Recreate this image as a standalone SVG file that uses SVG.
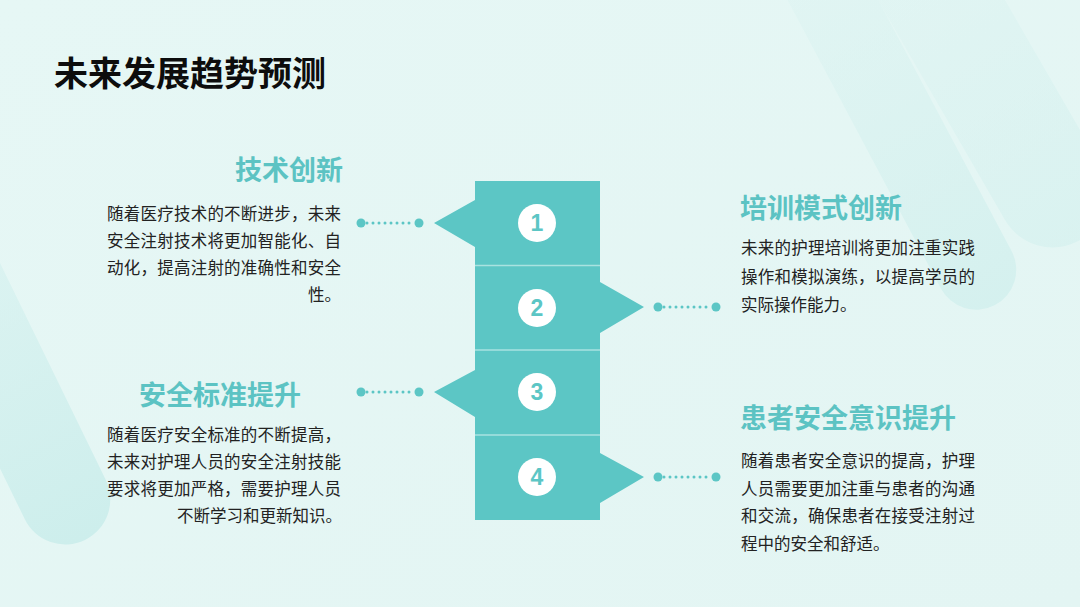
<svg xmlns="http://www.w3.org/2000/svg" width="1080" height="607" viewBox="0 0 1080 607">
  <defs>
    <linearGradient id="bg" x1="0" y1="0" x2="1" y2="1">
      <stop offset="0" stop-color="#E6F7F5"/>
      <stop offset="1" stop-color="#E3F5F3"/>
    </linearGradient>
    <linearGradient id="stripeL" x1="0" y1="0" x2="0" y2="1">
      <stop offset="0" stop-color="#D2F0EE" stop-opacity="0.3"/>
      <stop offset="1" stop-color="#CDEEEC" stop-opacity="1"/>
    </linearGradient>
    <linearGradient id="stripeR" x1="0" y1="0" x2="0" y2="1">
      <stop offset="0" stop-color="#D6F1EF" stop-opacity="0.2"/>
      <stop offset="1" stop-color="#D3F0EE" stop-opacity="0.9"/>
    </linearGradient>
    <style>
      .title{font-family:"Noto Sans CJK SC","Noto Sans",sans-serif;font-weight:700;font-size:34px;fill:#0d0d0d;}
      .head{font-family:"Noto Sans CJK SC","Noto Sans",sans-serif;font-weight:700;font-size:27px;fill:#5CC3C3;}
      .body{font-family:"Noto Sans CJK SC","Noto Sans",sans-serif;font-size:16.5px;fill:#222222;}
      .seg{fill:#5CC6C5;}
      .div{stroke:#A9E2E0;stroke-width:1.5;}
      .num{font-family:"Liberation Sans","Noto Sans",sans-serif;font-weight:700;font-size:23px;fill:#5CC6C5;text-anchor:middle;}
      .dot{fill:#5CC6C5;}
      .dash{stroke:#5CC6C5;stroke-width:3;stroke-linecap:round;stroke-dasharray:0 6;fill:none;}
    </style>
  </defs>

  <!-- background -->
  <rect width="1080" height="607" fill="url(#bg)"/>
  <rect x="-45" y="-420" width="90" height="420" rx="45" fill="url(#stripeL)" transform="translate(85,540) rotate(-26)"/>
  <rect x="-40" y="-420" width="80" height="420" rx="40" fill="url(#stripeR)" transform="translate(995,305) rotate(-28)"/>
  <rect x="-55" y="-420" width="110" height="420" rx="55" fill="url(#stripeR)" opacity="0.7" transform="translate(1080,240) rotate(-30)"/>

  <!-- title -->
  <text class="title" x="54" y="86">未来发展趋势预测</text>

  <!-- central stack -->
  <g id="stack">
    <g id="seg1">
      <path class="seg" d="M475,181 H600 V265 H475 V247 L434,223 L475,200 Z"/>
      <circle cx="537" cy="223" r="19" fill="#FFFFFF"/>
      <text class="num" x="537" y="231">1</text>
    </g>
    <g id="seg2">
      <path class="seg" d="M475,265 H600 V282 L644,307 L600,333 V350 H475 Z"/>
      <circle cx="537" cy="308" r="19" fill="#FFFFFF"/>
      <text class="num" x="537" y="316">2</text>
    </g>
    <g id="seg3">
      <path class="seg" d="M475,350 H600 V435 H475 V417 L434,392 L475,370 Z"/>
      <circle cx="537" cy="392" r="19" fill="#FFFFFF"/>
      <text class="num" x="537" y="400">3</text>
    </g>
    <g id="seg4">
      <path class="seg" d="M475,435 H600 V453 L644,477 L600,503 V520 H475 Z"/>
      <circle cx="537" cy="477" r="19" fill="#FFFFFF"/>
      <text class="num" x="537" y="485">4</text>
    </g>
    <line class="div" x1="475" y1="265.5" x2="600" y2="265.5"/>
    <line class="div" x1="475" y1="350" x2="600" y2="350"/>
    <line class="div" x1="475" y1="435" x2="600" y2="435"/>
  </g>

  <!-- connectors -->
  <g id="connectors">
    <line class="dash" x1="367" y1="223" x2="414" y2="223"/>
    <circle class="dot" cx="361" cy="223" r="4.5"/>
    <circle class="dot" cx="419" cy="223" r="4.5"/>

    <line class="dash" x1="664" y1="307" x2="711" y2="307"/>
    <circle class="dot" cx="658" cy="307" r="4.5"/>
    <circle class="dot" cx="716" cy="307" r="4.5"/>

    <line class="dash" x1="367" y1="392" x2="414" y2="392"/>
    <circle class="dot" cx="361" cy="392" r="4.5"/>
    <circle class="dot" cx="419" cy="392" r="4.5"/>

    <line class="dash" x1="664" y1="477" x2="711" y2="477"/>
    <circle class="dot" cx="658" cy="477" r="4.5"/>
    <circle class="dot" cx="716" cy="477" r="4.5"/>
  </g>

  <!-- node 1 -->
  <g id="node1">
    <text class="head" x="343" y="180" text-anchor="end">技术创新</text>
    <text class="body" x="107" y="220" textLength="234" lengthAdjust="spacing">随着医疗技术的不断进步，未来</text>
    <text class="body" x="107" y="247" textLength="234" lengthAdjust="spacing">安全注射技术将更加智能化、自</text>
    <text class="body" x="107" y="274" textLength="234" lengthAdjust="spacing">动化，提高注射的准确性和安全</text>
    <text class="body" x="341" y="301" text-anchor="end">性。</text>
  </g>

  <!-- node 2 -->
  <g id="node2">
    <text class="head" x="740" y="218">培训模式创新</text>
    <text class="body" x="741" y="254" textLength="234" lengthAdjust="spacing">未来的护理培训将更加注重实践</text>
    <text class="body" x="741" y="282.5" textLength="234" lengthAdjust="spacing">操作和模拟演练，以提高学员的</text>
    <text class="body" x="741" y="311">实际操作能力。</text>
  </g>

  <!-- node 3 -->
  <g id="node3">
    <text class="head" x="139" y="405">安全标准提升</text>
    <text class="body" x="107" y="441" textLength="234" lengthAdjust="spacing">随着医疗安全标准的不断提高，</text>
    <text class="body" x="107" y="468" textLength="234" lengthAdjust="spacing">未来对护理人员的安全注射技能</text>
    <text class="body" x="107" y="495" textLength="234" lengthAdjust="spacing">要求将更加严格，需要护理人员</text>
    <text class="body" x="342" y="522" text-anchor="end">不断学习和更新知识。</text>
  </g>

  <!-- node 4 -->
  <g id="node4">
    <text class="head" x="740" y="428">患者安全意识提升</text>
    <text class="body" x="741" y="467" textLength="234" lengthAdjust="spacing">随着患者安全意识的提高，护理</text>
    <text class="body" x="741" y="494.5" textLength="234" lengthAdjust="spacing">人员需要更加注重与患者的沟通</text>
    <text class="body" x="741" y="522" textLength="234" lengthAdjust="spacing">和交流，确保患者在接受注射过</text>
    <text class="body" x="741" y="549.5">程中的安全和舒适。</text>
  </g>
</svg>
